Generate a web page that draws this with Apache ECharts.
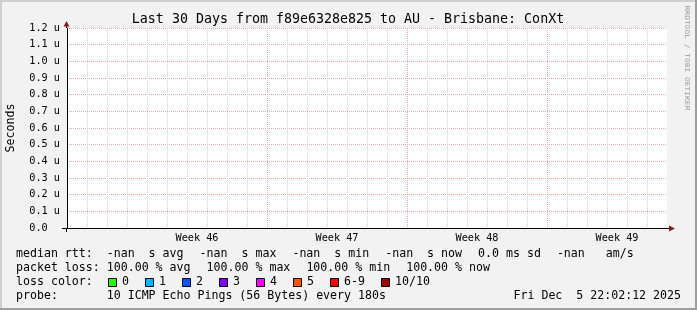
<!DOCTYPE html>
<html><head><meta charset="utf-8">
<script src="https://cdn.jsdelivr.net/npm/echarts@6/dist/echarts.min.js"></script>
<style>html,body{margin:0;padding:0;background:#f2f2f2;}#c{width:697px;height:310px;}</style>
</head><body><div id="c"></div>
<script>
// ---------- data ----------
const titleText = 'Last 30 Days from f89e6328e825 to AU - Brisbane: ConXt';
const yAxisTitle = 'Seconds';
const watermark = 'RRDTOOL / TOBI OETIKER';
const days = ['2025-11-06','2025-11-07','2025-11-08','2025-11-09','2025-11-10','2025-11-11','2025-11-12',
  '2025-11-13','2025-11-14','2025-11-15','2025-11-16','2025-11-17','2025-11-18','2025-11-19',
  '2025-11-20','2025-11-21','2025-11-22','2025-11-23','2025-11-24','2025-11-25','2025-11-26',
  '2025-11-27','2025-11-28','2025-11-29','2025-11-30','2025-12-01','2025-12-02','2025-12-03',
  '2025-12-04','2025-12-05'];
const weekLabels = ['Week 46','Week 47','Week 48','Week 49'];
const yMin = 0, yMax = 1.2, yStep = 0.1, yUnit = 'u';
// median rtt per day: all NaN (no replies), so nothing is drawn
const medianRtt = [null,null,null,null,null,null,null,null,null,null,null,null,null,null,null,
  null,null,null,null,null,null,null,null,null,null,null,null,null,null,null];
const rttStatNames = ['avg','max','min','now'];
const rttStatValues = ['-nan','-nan','-nan','-nan'];
const rttSd = '0.0 ms';
const rttAmps = '-nan';
const lossStatNames = ['avg','max','min','now'];
const lossStatValues = ['100.00','100.00','100.00','100.00'];
const lossColorLabels = ['0','1','2','3','4','5','6-9','10/10'];
const lossColors = ['#26ff00','#00b8ff','#0059ff','#7e00ff','#ff00ff','#ff5500','#ff0000','#a10000'];
const probeText = '10 ICMP Echo Pings (56 Bytes) every 180s';
const stampText = 'Fri Dec  5 22:02:12 2025';

// ---------- style ----------
const MONO = '"DejaVu Sans Mono", monospace';
const LEG_FS = 11.6, CW = 0.602 * LEG_FS, GAP = 16;
const MINOR = '#d2d2d2', MAJOR = '#eeaaaa', ARROW = '#801f1f', AXIS = '#000';

const dow = days.map(d => new Date(d + 'T00:00:00Z').getUTCDay());
const weekStart = new Set();
const labelAt = {};
let wk = 0;
dow.forEach((d, i) => { if (d === 0) weekStart.add(i); if (d === 3) labelAt[i] = weekLabels[wk++]; });

const chart = echarts.init(document.getElementById('c'), null, {renderer: 'canvas'});

const g = [];
function txt(text, x, y, opt) {
  opt = opt || {};
  g.push(Object.assign({type: 'text', x: x, y: y, silent: true,
    style: {text: text, fill: opt.fill || '#000', font: (opt.fs || LEG_FS) + 'px ' + MONO,
      textAlign: opt.align || 'left', textVerticalAlign: 'middle'}}, opt.el || {}));
}
// frame
g.push({type:'rect', shape:{x:0,y:0,width:697,height:2}, style:{fill:'#cfcfcf'}, silent:true});
g.push({type:'rect', shape:{x:0,y:0,width:2,height:310}, style:{fill:'#cfcfcf'}, silent:true});
g.push({type:'rect', shape:{x:0,y:308,width:697,height:2}, style:{fill:'#9e9e9e'}, silent:true});
g.push({type:'rect', shape:{x:695,y:0,width:2,height:310}, style:{fill:'#9e9e9e'}, silent:true});
// title
txt(titleText, 348, 19.6, {fs: 13.3, align: 'center'});
// y title
txt(yAxisTitle, 11, 128, {align: 'center', el: {rotation: Math.PI / 2}});
// watermark
txt(watermark, 686.5, 58, {fs: 6.6, align: 'center', fill: '#9a9a9a', el: {rotation: -Math.PI / 2, scaleX: 1.2}});
// axis extensions + arrows
g.push({type:'line', shape:{x1:62,y1:228.5,x2:67,y2:228.5}, style:{stroke:AXIS, lineWidth:1}, silent:true});
g.push({type:'line', shape:{x1:667,y1:228.5,x2:669,y2:228.5}, style:{stroke:AXIS, lineWidth:1}, silent:true});
g.push({type:'line', shape:{x1:66.5,y1:228,x2:66.5,y2:232}, style:{stroke:AXIS, lineWidth:1}, silent:true});
g.push({type:'line', shape:{x1:66.5,y1:25,x2:66.5,y2:28}, style:{stroke:AXIS, lineWidth:1}, silent:true});
g.push({type:'polygon', shape:{points:[[63.5,26.5],[69.5,26.5],[66.5,21]]}, style:{fill:ARROW}, silent:true});
g.push({type:'polygon', shape:{points:[[669,225.5],[669,231.5],[675,228.5]]}, style:{fill:ARROW}, silent:true});

// legend lines
const L0 = 16, LY = [254.3, 268.3, 282.3, 296.3];
function itemRow(items, y) {
  let x = L0;
  items.forEach(s => { txt(s, x, y); x += s.length * CW + GAP; });
}
const row1 = rttStatNames.map((n, i) => (i === 0 ? 'median rtt:  ' : '') + rttStatValues[i] + '  s ' + n);
row1.push(rttSd + ' sd');
row1.push(rttAmps + '   am/s');
itemRow(row1, LY[0]);
const row2 = lossStatNames.map((n, i) => (i === 0 ? 'packet loss: ' : '') + lossStatValues[i] + ' % ' + n);
itemRow(row2, LY[1]);
// loss colours
txt('loss color:', L0, LY[2]);
let bx = L0 + 11 * CW + GAP - 0.8;
lossColorLabels.forEach((lab, i) => {
  const x0 = Math.round(bx);
  g.push({type:'rect', shape:{x:x0 + 0.5, y:278.5, width:8, height:8},
    style:{fill: lossColors[i], stroke:'#000', lineWidth:1}, silent:true});
  txt(lab, x0 + 14, LY[2]);
  bx = x0 + 14 + lab.length * CW + GAP;
});
txt('probe:       ' + probeText, L0, LY[3]);
txt(stampText, 681, LY[3], {align: 'right'});

const option = {
  backgroundColor: '#f2f2f2',
  animation: false,
  grid: {left: 67, top: 28, width: 600, height: 200, show: true, backgroundColor: '#ffffff', borderWidth: 0},
  xAxis: [
    {type: 'value', min: 0, max: days.length, interval: 1, position: 'bottom',
      axisLine: {show: false}, axisTick: {show: false}, axisLabel: {show: false},
      splitLine: {show: true, showMinLine: false, showMaxLine: false, lineStyle: {color: MINOR, width: 1, type: [1, 1]}}},
    {type: 'category', data: days, boundaryGap: true, position: 'bottom',
      axisLine: {show: true, lineStyle: {color: AXIS, width: 1}},
      axisTick: {show: false},
      axisLabel: {interval: (i) => (i in labelAt), formatter: (v, i) => labelAt[i] || '',
        fontFamily: MONO, fontSize: 10.2, color: '#000', margin: 10.7, verticalAlign: 'middle'},
      splitLine: {show: true, showMinLine: false, showMaxLine: false, interval: (i) => weekStart.has(i),
        lineStyle: {color: MAJOR, width: 1, type: [1, 1]}}}
  ],
  yAxis: {type: 'value', min: yMin, max: yMax, interval: yStep, offset: 1,
    axisLine: {show: true, lineStyle: {color: AXIS, width: 1}},
    axisTick: {show: false},
    axisLabel: {formatter: (v) => v === 0 ? v.toFixed(1) + '  ' : v.toFixed(1) + ' ' + yUnit,
      fontFamily: MONO, fontSize: 10.2, color: '#000', margin: 6},
    splitLine: {show: true, showMinLine: false, showMaxLine: true, lineStyle: {color: MAJOR, width: 1, type: [1, 1]}}},
  series: [{type: 'line', name: 'median rtt', xAxisIndex: 1, data: medianRtt, showSymbol: false, lineStyle: {color: '#000'}}],
  graphic: g
};
chart.setOption(option);
</script></body></html>
